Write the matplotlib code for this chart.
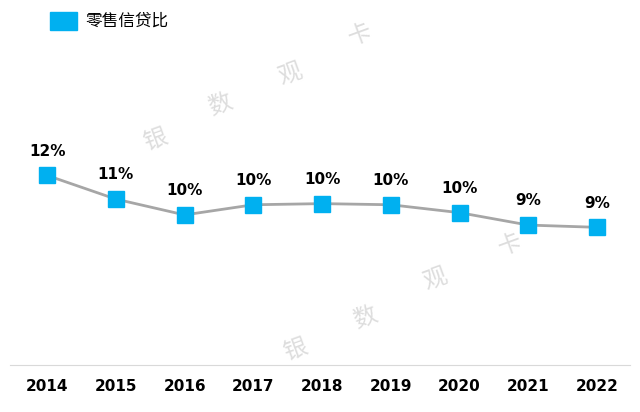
import matplotlib.pyplot as plt
from matplotlib.patches import Rectangle

years = [2014, 2015, 2016, 2017, 2018, 2019, 2020, 2021, 2022]
values = [11.6, 10.55, 9.85, 10.3, 10.35, 10.3, 9.95, 9.4, 9.3]
labels = ["12%", "11%", "10%", "10%", "10%", "10%", "10%", "9%", "9%"]

plt.rcParams['font.family'] = ['DejaVu Sans', 'Noto Sans CJK SC']
fig = plt.figure(figsize=(6.4, 4.12), dpi=100)
ax = fig.add_axes([10/640, 47/412, 620/640, 325/412])

ax.plot(years, values, color='#A6A6A6', lw=2, marker='s', ms=11,
        mfc='#00B0F0', mec='#00B0F0', zorder=3)
for x, v, t in zip(years, values, labels):
    ax.annotate(t, (x, v), xytext=(0, 12), textcoords='offset points',
                ha='center', va='bottom', fontsize=11, fontweight='bold')

ax.set_xlim(2013.46, 2022.48)
ax.set_ylim(3.2, 17.6)
ax.set_xticks(years)
ax.set_xticklabels([str(y) for y in years], fontsize=11, fontweight='bold')
ax.set_yticks([])
for s in ['top', 'right', 'left']:
    ax.spines[s].set_visible(False)
ax.spines['bottom'].set_color('#D9D9D9')
ax.tick_params(axis='x', length=0, pad=10)

# watermark
wm = dict(fontsize=17, color='#DDDDDD', rotation=20, ha='center', va='center',
          family='Noto Sans CJK SC')
for x, y, t in [(155, 140, '银'), (220, 105, '数'), (290, 75, '观'), (360, 35, '卡'),
                (295, 350, '银'), (365, 318, '数'), (435, 280, '观'), (510, 245, '卡')]:
    fig.text(x/640, 1 - y/412, t, **wm)

fig.patches.append(Rectangle((50/640, 1 - 30/412), 27/640, 18/412,
                             transform=fig.transFigure, color='#00B0F0'))
fig.text(85/640, 1 - 21/412, '零售信贷比', fontsize=12, va='center',
         family='Noto Sans CJK SC')

fig.savefig('out.png')
